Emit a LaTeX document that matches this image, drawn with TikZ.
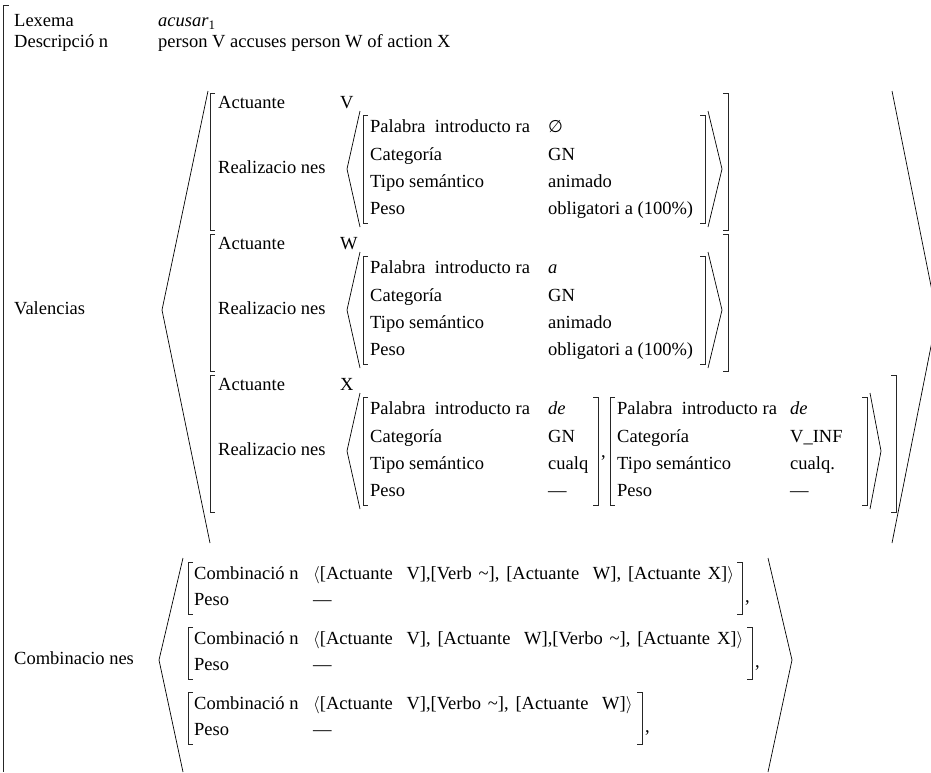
\documentclass[tikz,border=0pt]{standalone}
\usepackage{fontspec}
\setmainfont{Liberation Serif}
\newfontfamily\avmsym{DejaVu Sans}
\usetikzlibrary{positioning}
\newcommand{\avmwidesp}{\spaceskip=0.37em\relax}
\tikzset{
  avmtext/.style={anchor=west,inner sep=0pt,text height=13pt,text depth=4pt,font=\fontsize{18.5}{20}\selectfont},
  avmwide/.style={avmtext,font=\fontsize{18.5}{20}\selectfont\avmwidesp},
  avmbrk/.style={line width=0.8pt,draw=black!85},
  avmangle/.style={line width=0.7pt,draw=black}
}
% brackets: x, top, bottom
\newcommand{\avmlb}[3]{\draw[avmbrk] (#1+5,#2)--(#1,#2)--(#1,#3)--(#1+5,#3);}
\newcommand{\avmrb}[3]{\draw[avmbrk] (#1-5,#2)--(#1,#2)--(#1,#3)--(#1-5,#3);}
\begin{document}
\begin{tikzpicture}[x=1pt,y=-1pt]
\useasboundingbox (0,0) rectangle (931,772);
% outer matrix
\draw[avmbrk] (9,5)--(3,5)--(3,772);
\node[avmtext] (lex) at (14,22) {Lexema};
\node[avmtext] (lexval) at (158,22) {\textit{acusar}\textsubscript{1}};
\node[avmtext] (desc) at (14,43) {Descripció n};
\node[avmtext] (descval) at (158,43) {person V accuses person W of action X};
\node[avmtext] (val) at (14,310) {Valencias};
\draw[avmangle] (208,91)--(162,310)--(210,543);
\draw[avmangle] (892,91)--(937,316)--(892,543);

% actuante V
\avmlb{210}{93}{230}
\node[avmtext] (actV) at (218,104) {Actuante};
\node[avmtext] (actVval) at (340,104) {V};
\node[avmtext] (realV) at (218,169) {Realizacio nes};
\draw[avmangle] (360,111)--(347,169)--(360,227);
\avmlb{363}{115}{223}
\node[avmtext] (palV) at (370,128) {Palabra\enspace introducto ra};
\node[avmtext] (palVval) at (548,128) {{\avmsym\fontsize{17}{20}\selectfont ∅}};
\node[avmtext] (catV) at (370,156) {Categoría};
\node[avmtext] (catVval) at (548,156) {GN};
\node[avmtext] (tipV) at (370,183) {Tipo semántico};
\node[avmtext] (tipVval) at (548,183) {animado};
\node[avmtext] (pesV) at (370,210) {Peso};
\node[avmtext] (pesVval) at (548,210) {obligatori a (100\%)};
\avmrb{705}{115}{223}
\draw[avmangle] (708,111)--(722,169)--(708,227);
\avmrb{728}{93}{230}

% actuante W
\avmlb{210}{234}{371}
\node[avmtext] (actW) at (218,245) {Actuante};
\node[avmtext] (actWval) at (340,245) {W};
\node[avmtext] (realW) at (218,310) {Realizacio nes};
\draw[avmangle] (360,252)--(347,310)--(360,368);
\avmlb{363}{256}{364}
\node[avmtext] (palW) at (370,269) {Palabra\enspace introducto ra};
\node[avmtext] (palWval) at (548,269) {\textit{a}};
\node[avmtext] (catW) at (370,297) {Categoría};
\node[avmtext] (catWval) at (548,297) {GN};
\node[avmtext] (tipW) at (370,324) {Tipo semántico};
\node[avmtext] (tipWval) at (548,324) {animado};
\node[avmtext] (pesW) at (370,351) {Peso};
\node[avmtext] (pesWval) at (548,351) {obligatori a (100\%)};
\avmrb{705}{256}{364}
\draw[avmangle] (708,252)--(722,310)--(708,368);
\avmrb{728}{234}{371}

% actuante X
\avmlb{210}{375}{512}
\node[avmtext] (actX) at (218,386) {Actuante};
\node[avmtext] (actXval) at (340,386) {X};
\node[avmtext] (realX) at (218,451) {Realizacio nes};
\draw[avmangle] (360,393)--(347,451)--(360,509);
\avmlb{363}{397}{505}
\node[avmtext] (palXa) at (370,410) {Palabra\enspace introducto ra};
\node[avmtext] (palXaval) at (548,410) {\textit{de}};
\node[avmtext] (catXa) at (370,438) {Categoría};
\node[avmtext] (catXaval) at (548,438) {GN};
\node[avmtext] (tipXa) at (370,465) {Tipo semántico};
\node[avmtext] (tipXaval) at (548,465) {cualq};
\node[avmtext] (pesXa) at (370,492) {Peso};
\node[avmtext] (pesXaval) at (548,492) {—};
\avmrb{598}{397}{505}
\node[avmtext] (commaX) at (601,453) {,};
\avmlb{610}{397}{505}
\node[avmtext] (palXb) at (617,410) {Palabra\enspace introducto ra};
\node[avmtext] (palXbval) at (790,410) {\textit{de}};
\node[avmtext] (catXb) at (617,438) {Categoría};
\node[avmtext] (catXbval) at (790,438) {V\_INF};
\node[avmtext] (tipXb) at (617,465) {Tipo semántico};
\node[avmtext] (tipXbval) at (790,465) {cualq.};
\node[avmtext] (pesXb) at (617,492) {Peso};
\node[avmtext] (pesXbval) at (790,492) {—};
\avmrb{867}{397}{505}
\draw[avmangle] (870,393)--(881,451)--(870,509);
\avmrb{896}{375}{512}

% combinaciones
\node[avmtext] (comb) at (14,660) {Combinacio nes};
\draw[avmangle] (183,558)--(159,660)--(183,772);
\draw[avmangle] (768,558)--(792,660)--(768,772);

\avmlb{188}{562}{614}
\node[avmtext] (combA) at (194,575) {Combinació n};
\node[avmwide] (combAval) at (313,575) {$\langle$[Actuante\ \ V],[Verb \textasciitilde], [Actuante\ \ W], [Actuante X]$\rangle$};
\node[avmtext] (pesA) at (194,601) {Peso};
\node[avmtext] (pesAval) at (313,601) {—};
\avmrb{742}{562}{614}
\node[avmtext] (commaA) at (745,598) {,};

\avmlb{188}{627}{679}
\node[avmtext] (combB) at (194,640) {Combinació n};
\node[avmwide] (combBval) at (313,640) {$\langle$[Actuante\ \ V], [Actuante\ \ W],[Verbo \textasciitilde], [Actuante X]$\rangle$};
\node[avmtext] (pesB) at (194,666) {Peso};
\node[avmtext] (pesBval) at (313,666) {—};
\avmrb{752}{627}{679}
\node[avmtext] (commaB) at (755,663) {,};

\avmlb{188}{692}{744}
\node[avmtext] (combC) at (194,705) {Combinació n};
\node[avmwide] (combCval) at (313,705) {$\langle$[Actuante\ \ V],[Verbo \textasciitilde], [Actuante\ \ W]$\rangle$};
\node[avmtext] (pesC) at (194,731) {Peso};
\node[avmtext] (pesCval) at (313,731) {—};
\avmrb{642}{692}{744}
\node[avmtext] (commaC) at (645,728) {,};
\end{tikzpicture}
\end{document}
